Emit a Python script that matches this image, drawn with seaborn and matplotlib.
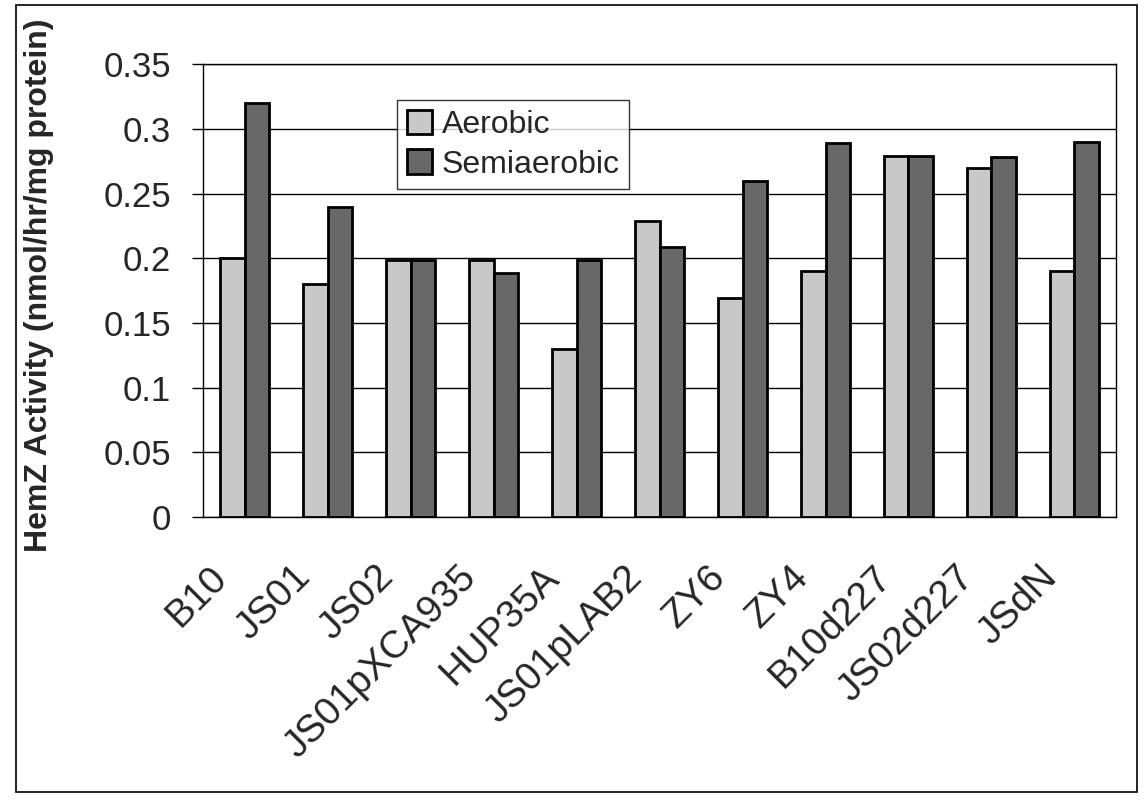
import matplotlib
matplotlib.use("Agg")
import matplotlib.pyplot as plt
import matplotlib.transforms as mtransforms
from matplotlib.patches import Rectangle
import seaborn as sns
import pandas as pd

strains = ["B10", "JS01", "JS02", "JS01pXCA935", "HUP35A", "JS01pLAB2",
           "ZY6", "ZY4", "B10d227", "JS02d227", "JSdN"]
aerobic = [0.200, 0.180, 0.199, 0.199, 0.130, 0.229, 0.169, 0.190, 0.279, 0.270, 0.190]
semiaerobic = [0.320, 0.240, 0.199, 0.189, 0.199, 0.209, 0.260, 0.289, 0.279, 0.278, 0.290]
series_names = ["Aerobic", "Semiaerobic"]
y_ticks = [0, 0.05, 0.1, 0.15, 0.2, 0.25, 0.3, 0.35]
y_tick_labels = ["0", "0.05", "0.1", "0.15", "0.2", "0.25", "0.3", "0.35"]
y_label = "HemZ Activity (nmol/hr/mg protein)"

df = pd.DataFrame({
    "strain": strains * 2,
    "activity": aerobic + semiaerobic,
    "condition": [series_names[0]] * len(strains) + [series_names[1]] * len(strains),
})

sns.set_style("white")
plt.rcParams["font.family"] = ["Liberation Sans", "DejaVu Sans"]

fig = plt.figure(figsize=(11.44, 8.01), dpi=100)
ax = fig.add_axes([0.1775, 0.3546, 0.798, 0.565])

sns.barplot(data=df, x="strain", y="activity", hue="condition",
            palette=["#c8c8c8", "#686868"], edgecolor="black", linewidth=2.0,
            width=0.60, ax=ax, saturation=1)

ax.set_ylim(0, 0.35)
ax.set_xlim(-0.5, len(strains) - 0.5)
ax.set_yticks(y_ticks)
ax.set_yticklabels(y_tick_labels, fontsize=25)
ax.yaxis.grid(True, color="black", linewidth=1.0)
ax.set_axisbelow(True)
ax.set_xlabel("")
ax.set_ylabel(y_label, fontsize=23, fontweight="bold")
ax.yaxis.set_label_coords(-0.163, 0.513)

# x ticks between groups (Excel style), labels at group centers
ax.set_xticks(range(len(strains)))
ax.set_xticklabels(strains, fontsize=28, rotation=45, ha="right", va="top")
ax.tick_params(axis="x", length=0, pad=0)
ax.set_xticks([i - 0.5 for i in range(len(strains) + 1)], minor=True)
ax.tick_params(axis="x", which="minor", length=8, width=1, direction="out", color="black")
ax.tick_params(axis="y", length=8, width=1, direction="out", color="black", pad=15, left=True)

offset = mtransforms.ScaledTranslation(-0.10, -0.42, fig.dpi_scale_trans)
for lbl in ax.get_xticklabels():
    lbl.set_transform(lbl.get_transform() + offset)

for s in ax.spines.values():
    s.set_visible(True)
    s.set_color("black")
    s.set_linewidth(1.0)

leg = ax.legend(loc="upper left", bbox_to_anchor=(0.2125, 0.9215), borderaxespad=0,
                fontsize=23, frameon=True, fancybox=False, edgecolor="black",
                handlelength=0.8, handleheight=0.8, handletextpad=0.3,
                borderpad=0.3, labelspacing=0.3)
leg.get_frame().set_linewidth(1.0)
for h in leg.legend_handles:
    h.set_edgecolor("black")
    h.set_linewidth(2.0)

fig.patches.append(Rectangle((0.014, 0.011), 0.98, 0.9825, transform=fig.transFigure,
                             fill=False, edgecolor="black", linewidth=1.2))

fig.savefig("out.png", dpi=100)
